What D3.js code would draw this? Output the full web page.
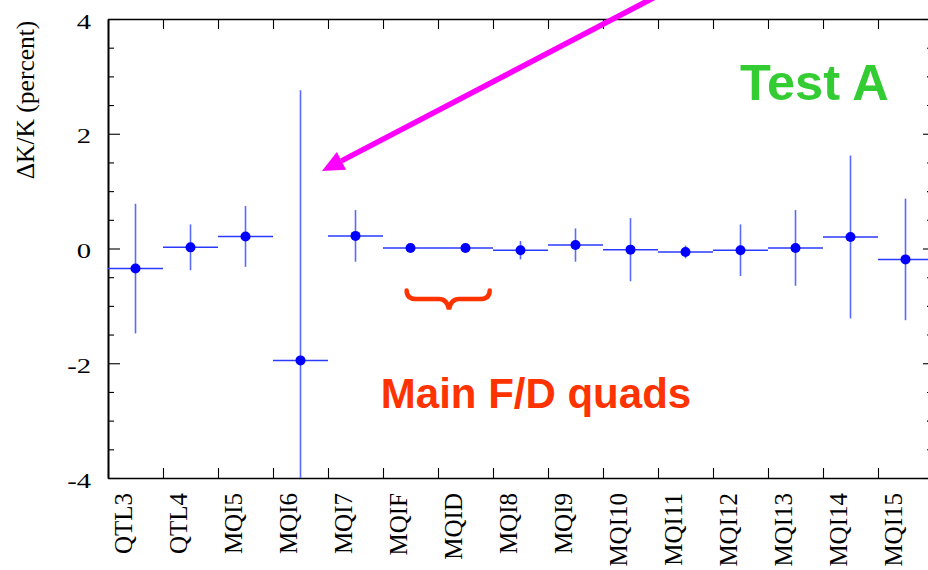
<!DOCTYPE html>
<html>
<head>
<meta charset="utf-8">
<script src="https://cdn.jsdelivr.net/npm/d3@7"></script>
<style>
  html, body { margin: 0; padding: 0; background: #fff; }
  svg { display: block; }
</style>
</head>
<body>
<svg id="chart" width="928" height="570"></svg>
<script>
// Magnet names along the lattice
const categories = ["QTL3","QTL4","MQI5","MQI6","MQI7","MQIF","MQID","MQI8","MQI9","MQI10","MQI11","MQI12","MQI13","MQI14","MQI15"];
// Fitted gradient change, percent
const values = [-0.35, 0.02, 0.21, -1.95, 0.22, 0.01, 0.01, -0.03, 0.06, -0.02, -0.06, -0.03, 0.01, 0.20, -0.19];
// One-sigma uncertainty, percent
const errors = [1.13, 0.40, 0.53, 4.71, 0.45, 0.02, 0.02, 0.16, 0.29, 0.55, 0.11, 0.45, 0.66, 1.42, 1.06];
// Axis tick labels
const yTickValues = [-4, -2, 0, 2, 4];
const yMinorValues = [-3.5, -3, -2.5, -1.5, -1, -0.5, 0.5, 1, 1.5, 2.5, 3, 3.5];
// Annotation texts
const yTitle = "ΔK/K (percent)";
const testLabel = "Test A";
const groupLabel = "Main F/D quads";

const svg = d3.select("#chart");
const plotLeft = 108, plotRight = 933, plotTop = 19, plotBottom = 478;

const x = d3.scaleBand().domain(categories).range([plotLeft, plotRight]).padding(0);
const xIdx = d3.scaleLinear().domain([0, categories.length]).range([plotLeft, plotRight]);
const y = d3.scaleLinear().domain([-4, 4]).range([plotBottom, plotTop]);

const serif = "'Liberation Serif', 'Times New Roman', serif";
const sans = "'Liberation Sans', Arial, Helvetica, sans-serif";

svg.append("defs").append("clipPath").attr("id", "plot-clip")
  .append("rect").attr("x", plotLeft).attr("y", plotTop)
  .attr("width", plotRight - plotLeft).attr("height", plotBottom - plotTop);

// ---- frame and ticks ----
const boundaries = d3.range(0, categories.length + 1);

const topAxis = svg.append("g").attr("transform", `translate(0,${plotTop})`)
  .call(d3.axisTop(xIdx).tickValues(boundaries).tickSizeInner(-10).tickSizeOuter(0).tickFormat(""));
const bottomAxis = svg.append("g").attr("transform", `translate(0,${plotBottom})`)
  .call(d3.axisBottom(xIdx).tickValues(boundaries).tickSizeInner(-10).tickSizeOuter(0).tickFormat(""));

const leftMinor = svg.append("g").attr("transform", `translate(${plotLeft},0)`)
  .call(d3.axisLeft(y).tickValues(yMinorValues).tickSizeInner(-6).tickSizeOuter(0).tickFormat(""));
const leftAxis = svg.append("g").attr("transform", `translate(${plotLeft},0)`)
  .call(d3.axisLeft(y).tickValues(yTickValues).tickSizeInner(-12).tickSizeOuter(0).tickPadding(17)
    .tickFormat(d => String(d)));
const rightMinor = svg.append("g").attr("transform", `translate(${plotRight},0)`)
  .call(d3.axisRight(y).tickValues(yMinorValues).tickSizeInner(-6).tickSizeOuter(0).tickFormat(""));
const rightAxis = svg.append("g").attr("transform", `translate(${plotRight},0)`)
  .call(d3.axisRight(y).tickValues(yTickValues).tickSizeInner(-10).tickSizeOuter(0).tickFormat(""));

[topAxis, bottomAxis, leftMinor, leftAxis, rightMinor, rightAxis].forEach(g => {
  g.selectAll(".domain").attr("stroke", "#000").attr("stroke-width", 1.6);
  g.selectAll(".tick line").attr("stroke", "#000").attr("stroke-width", 1.1);
});

leftAxis.selectAll(".tick text")
  .attr("x", null).attr("dy", null)
  .attr("transform", "translate(-17,9) scale(1.3,1)")
  .attr("text-anchor", "end")
  .attr("fill", "#000")
  .style("font-family", serif)
  .style("font-size", "22px");

// category labels, rotated
const labelAxis = svg.append("g").attr("transform", `translate(0,${plotBottom})`)
  .call(d3.axisBottom(x).tickSize(0).tickPadding(0));
labelAxis.select(".domain").remove();
labelAxis.selectAll(".tick text")
  .attr("x", null).attr("y", null).attr("dy", null)
  .attr("transform", "translate(-4,15) rotate(-90)")
  .attr("text-anchor", "end")
  .attr("fill", "#000")
  .style("font-family", serif)
  .style("font-size", "25px");

// y title
svg.append("text")
  .attr("transform", "translate(34,100) rotate(-90)")
  .attr("text-anchor", "middle")
  .style("font-family", serif)
  .style("font-size", "25.5px")
  .attr("fill", "#000")
  .text(yTitle);

// ---- data: error crosses and points ----
const data = categories.map((c, i) => ({ name: c, v: values[i], e: errors[i] }));
const plot = svg.append("g").attr("clip-path", "url(#plot-clip)");

plot.selectAll("line.hbar").data(data).join("line")
  .attr("class", "hbar")
  .attr("x1", d => x(d.name))
  .attr("x2", d => x(d.name) + x.bandwidth())
  .attr("y1", d => y(d.v)).attr("y2", d => y(d.v))
  .attr("stroke", "#2a3aff").attr("stroke-width", 1.5);

plot.selectAll("line.vbar").data(data).join("line")
  .attr("class", "vbar")
  .attr("x1", d => x(d.name) + x.bandwidth() / 2)
  .attr("x2", d => x(d.name) + x.bandwidth() / 2)
  .attr("y1", d => y(d.v + d.e)).attr("y2", d => y(d.v - d.e))
  .attr("stroke", "#5a6aff").attr("stroke-width", 1.6);

plot.selectAll("circle.pt").data(data).join("circle")
  .attr("class", "pt")
  .attr("cx", d => x(d.name) + x.bandwidth() / 2)
  .attr("cy", d => y(d.v))
  .attr("r", 5)
  .attr("fill", "#0000ff");

// ---- annotations ----
svg.append("text")
  .attr("x", xIdx(11.49)).attr("y", y(2.58))
  .style("font-family", sans).style("font-weight", "bold").style("font-size", "50.5px")
  .attr("fill", "#33cc33")
  .text(testLabel);

svg.append("text")
  .attr("x", xIdx(4.96)).attr("y", y(-2.78))
  .style("font-family", sans).style("font-weight", "bold").style("font-size", "42px")
  .attr("fill", "#ff3300")
  .text(groupLabel);

// curly brace under the main F/D quads
const bx0 = xIdx(5.43), bx1 = xIdx(6.94), bm = xIdx(6.2);
const byTop = y(-0.73), byMid = y(-0.88), byTip = y(-1.06);
const brace = d3.path();
brace.moveTo(bx0, byTop);
brace.quadraticCurveTo(bx0, byMid, bx0 + 10, byMid);
brace.lineTo(bm - 10, byMid);
brace.quadraticCurveTo(bm - 2, byMid, bm, byTip);
brace.quadraticCurveTo(bm + 2, byMid, bm + 10, byMid);
brace.lineTo(bx1 - 10, byMid);
brace.quadraticCurveTo(bx1, byMid, bx1, byTop);
svg.append("path")
  .attr("d", brace.toString())
  .attr("fill", "none")
  .attr("stroke", "#ff3300")
  .attr("stroke-width", 4.5)
  .attr("stroke-linecap", "round");

// magenta arrow pointing at MQI6
const tip = [xIdx(3.89), y(1.35)];
const tail = [xIdx(9.98), y(4.4)];
const ang = Math.atan2(tail[1] - tip[1], tail[0] - tip[0]);
const headLen = 22, headHalf = 10;
const base = [tip[0] + headLen * Math.cos(ang), tip[1] + headLen * Math.sin(ang)];
svg.append("line")
  .attr("x1", base[0]).attr("y1", base[1])
  .attr("x2", tail[0]).attr("y2", tail[1])
  .attr("stroke", "#ff00ff").attr("stroke-width", 5.5);
svg.append("polygon")
  .attr("points", [
    tip,
    [base[0] - headHalf * Math.sin(ang), base[1] + headHalf * Math.cos(ang)],
    [base[0] + headHalf * Math.sin(ang), base[1] - headHalf * Math.cos(ang)]
  ].map(p => p.join(",")).join(" "))
  .attr("fill", "#ff00ff");
</script>
</body>
</html>
